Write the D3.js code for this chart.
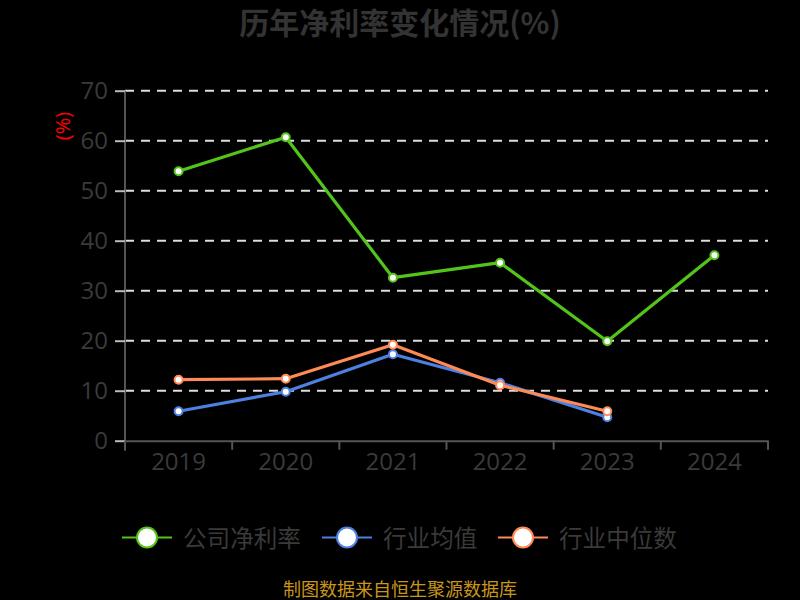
<!DOCTYPE html>
<html>
<head>
<meta charset="utf-8">
<script src="https://cdn.jsdelivr.net/npm/d3@7"></script>
<style>
  html, body { margin: 0; padding: 0; background: #000; }
  svg { display: block; }
</style>
</head>
<body>
<svg id="chart" width="800" height="600"></svg>
<script>
const years = ["2019", "2020", "2021", "2022", "2023", "2024"];
const companyNet = [53.9, 60.7, 32.6, 35.6, 19.9, 37.1];
const industryAvg = [5.9, 9.8, 17.3, 11.6, 4.7, null];
const industryMedian = [12.2, 12.4, 19.2, 11.1, 5.9, null];
const yTicks = [0, 10, 20, 30, 40, 50, 60, 70];
const seriesNames = ["公司净利率", "行业均值", "行业中位数"];
const seriesColors = ["#52c41a", "#4d80e0", "#ff8a55"];
const titleText = "历年净利率变化情况(%)";
const sourceText = "制图数据来自恒生聚源数据库";

(function () {
const svg = d3.select("#chart");
const font = "'Open Sans', 'Noto Sans', sans-serif";
const pLeft = 125, pRight = 768, pTop = 90.7, pBottom = 440.7;

svg.append("rect").attr("width", 800).attr("height", 600).attr("fill", "#000");

const x = d3.scaleBand().domain(years).range([pLeft, pRight]);
const y = d3.scaleLinear().domain([0, 70]).range([pBottom, pTop]);

// title
svg.append("text")
  .attr("x", 400).attr("y", 34)
  .attr("text-anchor", "middle")
  .attr("font-family", "'Noto Sans CJK SC', sans-serif")
  .attr("font-weight", "bold")
  .attr("font-size", 30)
  .attr("fill", "#333")
  .text(titleText);

// grid
svg.append("g").selectAll("line")
  .data(yTicks.filter(d => d > 0))
  .join("line")
  .attr("x1", pLeft).attr("x2", pRight)
  .attr("y1", d => y(d)).attr("y2", d => y(d))
  .attr("stroke", "#ddd")
  .attr("stroke-width", 2)
  .attr("stroke-dasharray", "9,7");

// y axis
const yAxis = svg.append("g")
  .attr("transform", `translate(${pLeft},0)`)
  .call(d3.axisLeft(y).tickValues(yTicks).tickSize(10).tickPadding(7));
yAxis.select(".domain").attr("stroke", "#555").attr("stroke-width", 2)
  .attr("d", `M0,${pTop}V${pBottom + 10}`);
yAxis.selectAll(".tick line").attr("stroke", "#bbb").attr("stroke-width", 2);
yAxis.selectAll(".tick text")
  .attr("font-family", font).attr("font-size", 24).attr("fill", "#3a3a3a");

// x axis
const xAxis = svg.append("g")
  .attr("transform", `translate(0,${pBottom})`)
  .call(d3.axisBottom(x).tickSize(0).tickPadding(12));
xAxis.select(".domain").attr("stroke", "#555").attr("stroke-width", 2);
xAxis.selectAll(".tick text")
  .attr("font-family", font).attr("font-size", 24).attr("fill", "#3a3a3a");
svg.append("g").selectAll("line")
  .data(years.concat(["end"]))
  .join("line")
  .attr("x1", (d, i) => pLeft + i * x.step())
  .attr("x2", (d, i) => pLeft + i * x.step())
  .attr("y1", pBottom).attr("y2", pBottom + 9)
  .attr("stroke", "#555").attr("stroke-width", 2);

// y label
svg.append("text")
  .attr("transform", "translate(70,126) rotate(-90)")
  .attr("text-anchor", "middle")
  .attr("font-family", font)
  .attr("font-size", 20)
  .attr("fill", "#f00")
  .text("(%)");

// lines
const allSeries = [companyNet, industryAvg, industryMedian];
allSeries.forEach((vals, si) => {
  const g = svg.append("g");
  const pts = vals.map((v, i) => ({ v, i })).filter(p => p.v != null);
  g.append("path")
    .attr("d", d3.line().x(p => x(years[p.i]) + x.bandwidth() / 2).y(p => y(p.v))(pts))
    .attr("fill", "none")
    .attr("stroke", seriesColors[si])
    .attr("stroke-width", 3.2)
    .attr("stroke-linejoin", "round");
  g.selectAll("circle")
    .data(pts)
    .join("circle")
    .attr("cx", p => x(years[p.i]) + x.bandwidth() / 2)
    .attr("cy", p => y(p.v))
    .attr("r", 4)
    .attr("fill", "#fff")
    .attr("stroke", seriesColors[si])
    .attr("stroke-width", 2);
});

// legend
const legendY = 537.5;
const legendStarts = [122, 322, 498];
seriesNames.forEach((name, i) => {
  const lx = legendStarts[i];
  const g = svg.append("g");
  g.append("line")
    .attr("x1", lx).attr("x2", lx + 50)
    .attr("y1", legendY).attr("y2", legendY)
    .attr("stroke", seriesColors[i]).attr("stroke-width", 2);
  g.append("circle")
    .attr("cx", lx + 25).attr("cy", legendY).attr("r", 10)
    .attr("fill", "#fff")
    .attr("stroke", seriesColors[i]).attr("stroke-width", 2);
  g.append("text")
    .attr("x", lx + 61).attr("y", legendY + 9)
    .attr("font-family", "'Noto Sans CJK SC', sans-serif")
    .attr("font-size", 23.6)
    .attr("fill", "#3a3a3a")
    .text(name);
});

// source
svg.append("text")
  .attr("x", 400).attr("y", 596)
  .attr("text-anchor", "middle")
  .attr("font-family", "'Noto Sans CJK SC', sans-serif")
  .attr("font-size", 18)
  .attr("fill", "#c9961a")
  .text(sourceText);
})();
</script>
</body>
</html>
